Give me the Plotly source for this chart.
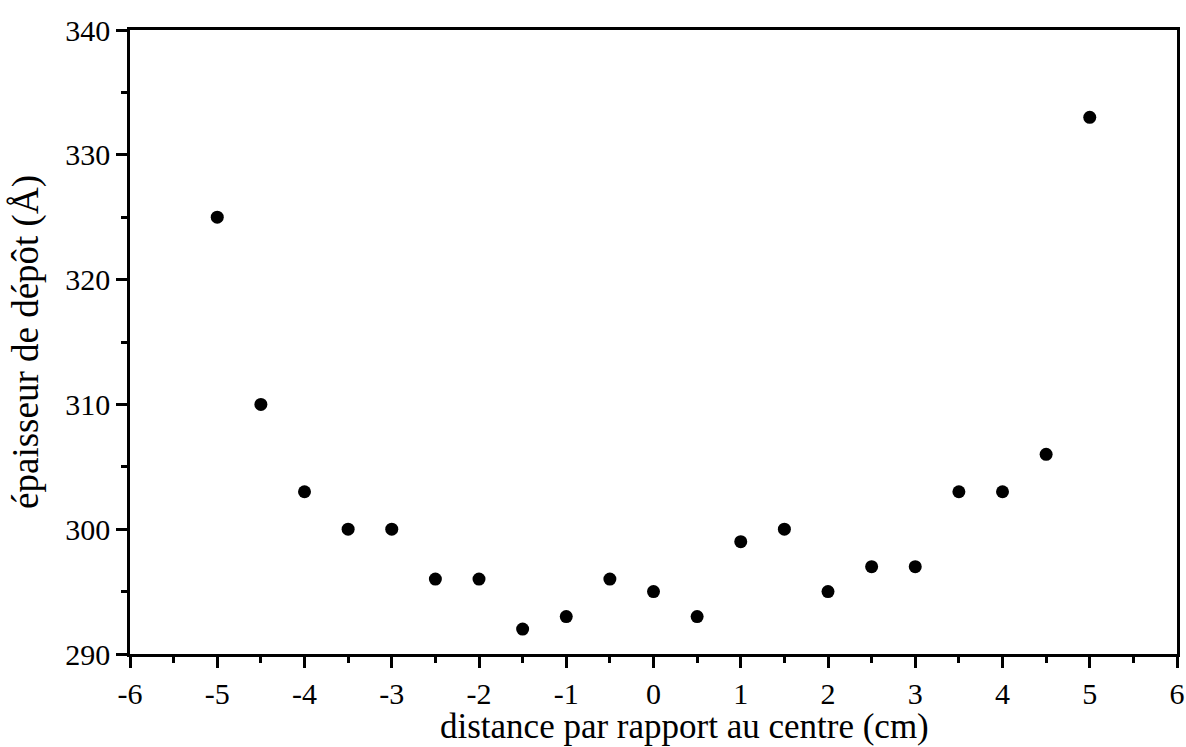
import plotly.graph_objects as go

# Deposit thickness measured across the substrate
distance_cm = [-5, -4.5, -4, -3.5, -3, -2.5, -2, -1.5, -1, -0.5, 0,
               0.5, 1, 1.5, 2, 2.5, 3, 3.5, 4, 4.5, 5]
epaisseur_A = [325, 310, 303, 300, 300, 296, 296, 292, 293, 296, 295,
               293, 299, 300, 295, 297, 297, 303, 303, 306, 333]

x_ticks = [-6, -5, -4, -3, -2, -1, 0, 1, 2, 3, 4, 5, 6]
y_ticks = [290, 300, 310, 320, 330, 340]

FONT = "Liberation Serif"

fig = go.Figure(
    go.Scatter(
        x=distance_cm,
        y=epaisseur_A,
        mode="markers",
        marker=dict(size=13, color="black", line=dict(width=0)),
        showlegend=False,
    )
)

axis_common = dict(
    showgrid=False,
    zeroline=False,
    showline=True,
    linecolor="black",
    linewidth=2.5,
    mirror=True,
    ticks="outside",
    ticklen=11,
    tickwidth=2.5,
    tickcolor="black",
    tickfont=dict(family=FONT, size=30, color="black"),
)

fig.update_xaxes(
    range=[-6, 6],
    tickvals=x_ticks,
    ticktext=[str(v) for v in x_ticks],
    minor=dict(dtick=0.5, ticks="outside", ticklen=6, tickwidth=2.5, tickcolor="black"),
    **axis_common,
)
fig.update_yaxes(
    range=[290, 340],
    tickvals=y_ticks,
    ticktext=[str(v) for v in y_ticks],
    minor=dict(dtick=5, ticks="outside", ticklen=6, tickwidth=2.5, tickcolor="black"),
    title=dict(text="épaisseur de dépôt (Å)",
               font=dict(family=FONT, size=37, color="black"), standoff=16),
    **axis_common,
)

# x-axis caption, set slightly right of the plot centre
fig.add_annotation(
    text="distance par rapport au centre (cm)",
    xref="paper", yref="paper", x=0.53, y=0,
    xanchor="center", yanchor="middle", yshift=-72,
    showarrow=False,
    font=dict(family=FONT, size=35, color="black"),
)

fig.update_layout(
    width=1186,
    height=747,
    margin=dict(l=130, r=9, t=30, b=93, autoexpand=False),
    paper_bgcolor="white",
    plot_bgcolor="white",
)

fig.write_html("out.html")
